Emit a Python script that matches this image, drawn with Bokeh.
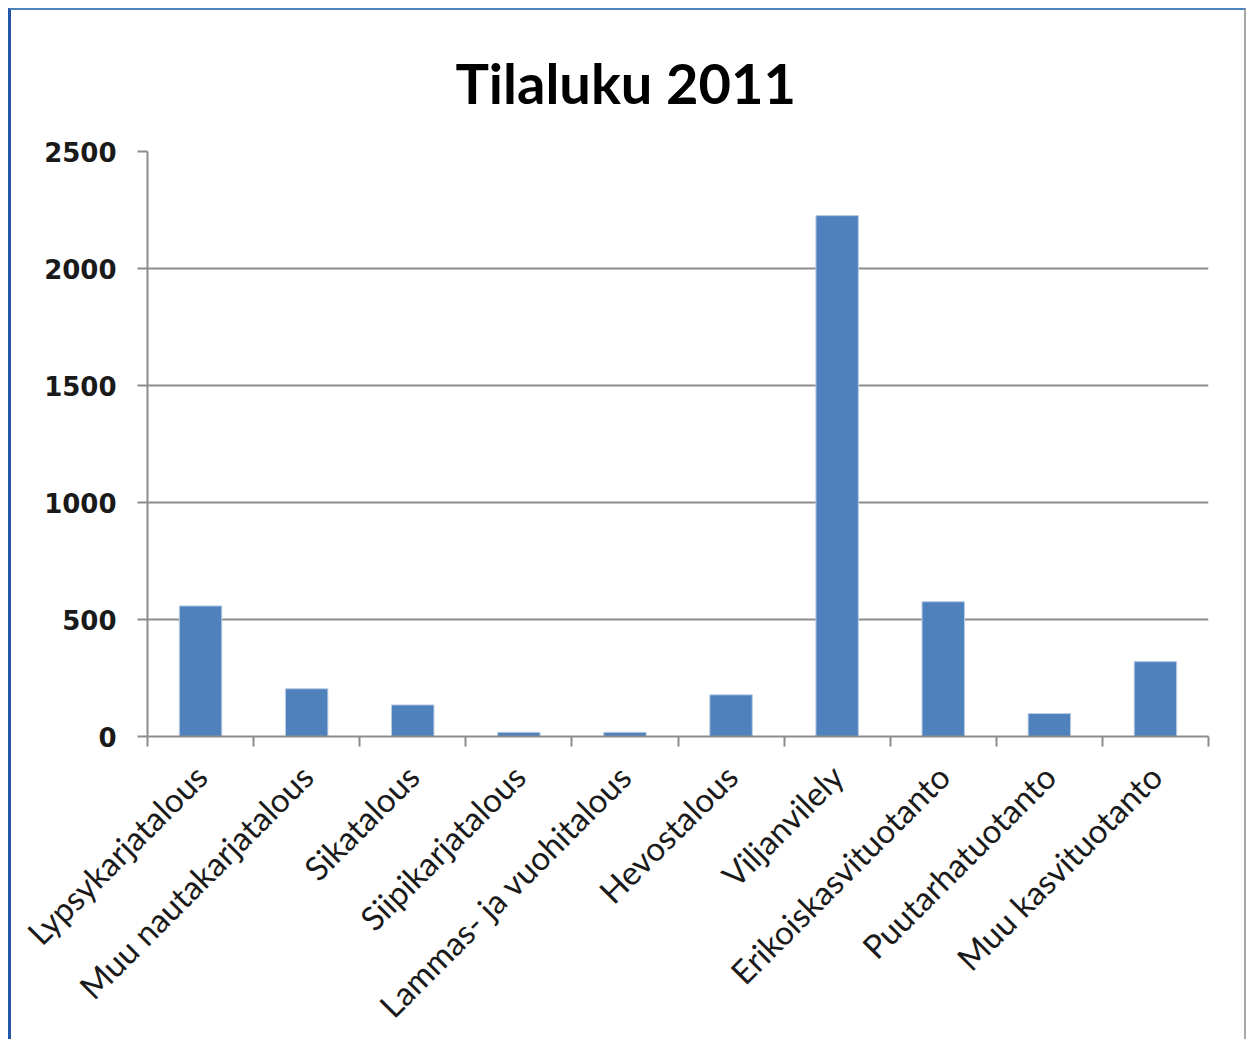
from math import pi
from bokeh.plotting import figure
from bokeh.models import Range1d, LinearAxis, FixedTicker
from bokeh.embed import file_html
from bokeh.resources import INLINE

title_text = "Tilaluku 2011"
categories = ["Lypsykarjatalous", "Muu nautakarjatalous", "Sikatalous",
              "Siipikarjatalous", "Lammas- ja vuohitalous", "Hevostalous",
              "Viljanvilely", "Erikoiskasvituotanto", "Puutarhatuotanto",
              "Muu kasvituotanto"]
values = [558, 204, 135, 18, 18, 178, 2226, 576, 98, 320]
y_ticks = [0, 500, 1000, 1500, 2000, 2500]

GRID = "#8c8c8c"
n = len(categories)
positions = list(range(n))

p = figure(x_range=Range1d(-0.5, n - 0.5),
           y_range=Range1d(y_ticks[0], y_ticks[-1]),
           width=1238, height=1031,
           output_backend="svg", toolbar_location=None,
           x_axis_location=None, title=title_text,
           min_border_left=136, min_border_right=41,
           min_border_top=141, min_border_bottom=305)
p.margin = (8, 0, 0, 8)

p.styles = {"border-top": "2px solid #4f81bd",
            "border-left": "3px solid #2457a8",
            "border-right": "2px solid #a6a6a6"}

p.vbar(x=positions, top=values, width=0.4,
       fill_color="#4F81BD", line_color="#b9cce4", line_width=1)

# x axis: category names at centres, tick marks (minor) at boundaries
x_axis = LinearAxis(ticker=FixedTicker(ticks=positions,
                                       minor_ticks=[i - 0.5 for i in range(n + 1)]),
                    major_label_overrides={i: c for i, c in enumerate(categories)},
                    axis_line_color=GRID, axis_line_width=2,
                    major_tick_line_color=None, major_tick_out=10, major_tick_in=0,
                    minor_tick_line_color=GRID, minor_tick_line_width=2,
                    minor_tick_out=10, minor_tick_in=0,
                    major_label_orientation=pi / 4,
                    major_label_standoff=24,
                    major_label_text_font="Lato",
                    major_label_text_font_size="33px",
                    major_label_text_color="#1a1a1a")
p.add_layout(x_axis, "below")

ya = p.yaxis[0]
ya.ticker = FixedTicker(ticks=y_ticks)
ya.axis_line_color = GRID
ya.axis_line_width = 2
ya.major_tick_out = 10
ya.major_tick_in = 0
ya.major_tick_line_color = GRID
ya.major_tick_line_width = 2
ya.minor_tick_line_color = None
ya.major_label_text_font = "DejaVu Sans"
ya.major_label_text_font_style = "bold"
ya.major_label_text_font_size = "26px"
ya.major_label_text_color = "#1a1a1a"
ya.major_label_standoff = 21

p.xgrid.visible = False
p.ygrid.grid_line_color = GRID
p.ygrid.grid_line_width = 2
p.outline_line_color = None

p.title.text_font = "Lato"
p.title.text_font_style = "bold"
p.title.text_font_size = "56px"
p.title.text_color = "#000000"
p.title.align = "left"
p.title.offset = 308
p.title.standoff = 72

open("out.html", "w").write(file_html(p, INLINE))
